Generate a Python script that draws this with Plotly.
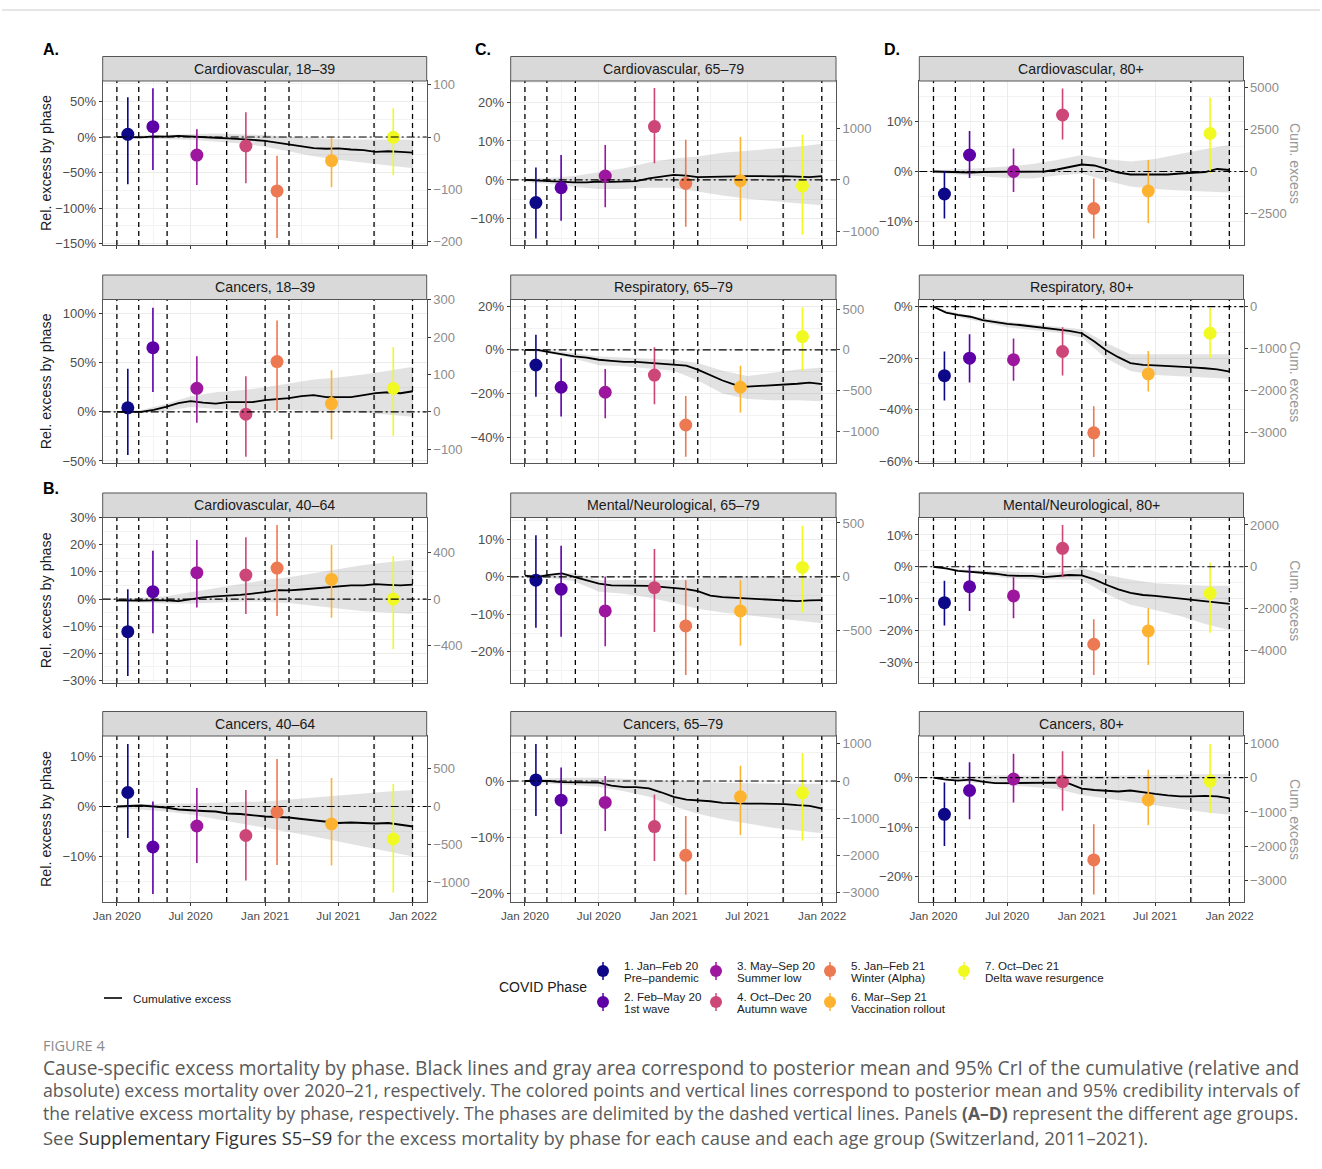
import plotly.graph_objects as go
import pandas as pd

W, H = 1322, 1169

# ---------------- data ----------------
phase_bounds = ["2020-01-01", "2020-02-24", "2020-05-04", "2020-09-28",
                "2021-01-01", "2021-03-01", "2021-09-27", "2021-12-31"]
phase_labels = ["1. Jan–Feb 20", "2. Feb–May 20", "3. May–Sep 20", "4. Oct–Dec 20",
                "5. Jan–Feb 21", "6. Mar–Sep 21", "7. Oct–Dec 21"]
phase_names = ["Pre–pandemic", "1st wave", "Summer low", "Autumn wave",
               "Winter (Alpha)", "Vaccination rollout", "Delta wave resurgence"]
phase_colors = ["#0D0887", "#5D01A6", "#9C179E", "#CC4678", "#ED7953", "#FDB32F", "#F0F921"]

month_dates = pd.date_range("2020-01-01", "2022-01-01", freq="MS")   # 25 points
band_dates = pd.date_range("2020-01-01", "2022-01-01", freq="2MS")   # 13 points

# Cardiovascular 18-39
cv_18_39_est = [3.8, 14.5, -25.3, -12.6, -75.8, -33.3, -0.4]
cv_18_39_lo = [-66.4, -46.3, -67.4, -65.0, -142.0, -70.6, -53.4]
cv_18_39_hi = [55.7, 68.4, 10.8, 34.7, -26.3, -0.4, 40.3]
cv_18_39_cum = [0, 0, -0.5, 1, 0.5, 1.5, 1, 0, -1, -2, -2.5, -4, -5.5, -8, -11, -13.5,
                -15.5, -16.5, -16, -17.5, -18.5, -21, -20, -21, -22]
cv_18_39_bhi = [1, 2, 3.5, 5, 5, 4, 2.8, 0, -2, -3, -3.5, -4, -4]
cv_18_39_blo = [-1, -2.5, -3, -4, -6, -9, -13.6, -20, -27, -32, -36, -40, -44]

# Cancers 18-39
ca_18_39_est = [4.1, 65.4, 24.0, -2.4, 51.2, 8.5, 23.8]
ca_18_39_lo = [-44.0, 20.3, -11.2, -45.7, 1.0, -28.0, -24.4]
ca_18_39_hi = [44.0, 106.0, 56.6, 36.3, 93.2, 42.4, 66.0]
ca_18_39_cum = [0, 0, 0, 2, 5, 9, 11, 9.5, 8.5, 10, 10, 10, 12, 13, 14, 16, 17, 15, 15,
                15, 17, 19, 20, 19, 21]
ca_18_39_bhi = [0.5, 2, 8, 16, 20, 22, 25, 29, 33, 35, 38, 42, 46]
ca_18_39_blo = [-0.5, -1, 1, 5, 3, 2, 2, 2, 1, 0, -1, -3, -5]

# Cardiovascular 40-64
cv_40_64_est = [-12.0, 2.7, 9.7, 8.8, 11.4, 7.2, 0.0]
cv_40_64_lo = [-28.3, -12.6, -3.1, -5.5, -6.2, -6.9, -18.5]
cv_40_64_hi = [3.6, 17.8, 21.7, 22.7, 27.2, 19.9, 15.8]
cv_40_64_cum = [-0.5, -0.6, -0.6, -0.5, -0.5, -0.8, 0, 0.6, 1, 1.2, 1.5, 2, 2.5, 3.3,
                3.2, 3.5, 3.8, 4.3, 4.6, 5, 5, 5.5, 5.2, 5, 5.3]
cv_40_64_bhi = [0, 0.5, 1, 2.5, 4, 5.5, 7, 8, 9.5, 11, 12.5, 13.5, 14.5]
cv_40_64_blo = [-1, -1.3, -1.6, -1.6, -1.3, -1, -1, -1.5, -2.5, -3.5, -4.5, -5, -5.5]

# Cancers 40-64
ca_40_64_est = [2.8, -8.1, -3.9, -5.8, -1.1, -3.5, -6.5]
ca_40_64_lo = [-6.3, -17.5, -11.3, -14.8, -11.7, -11.8, -17.2]
ca_40_64_hi = [12.5, 1.0, 3.7, 3.3, 9.5, 5.7, 4.5]
ca_40_64_cum = [0, 0.1, 0.2, 0, -0.2, -0.6, -0.8, -0.9, -1, -1.4, -1.5, -1.8, -2, -2.1,
                -2.2, -2.5, -2.8, -3, -3.3, -3.2, -3.3, -3.4, -3.3, -3.6, -4]
ca_40_64_bhi = [0.3, 0.5, 0.6, 0.6, 0.8, 0.9, 1, 1.4, 1.8, 2.3, 2.7, 3, 3.3]
ca_40_64_blo = [-0.3, -0.6, -1, -1.6, -2.5, -3.3, -4.2, -5, -6, -7, -8, -9, -10]

# Cardiovascular 65-79
cv_65_79_est = [-5.8, -2.0, 1.0, 13.7, -0.9, -0.2, -1.5]
cv_65_79_lo = [-15.0, -10.5, -7.0, 4.3, -12.0, -10.5, -14.1]
cv_65_79_hi = [3.2, 6.4, 9.0, 23.6, 10.3, 11.0, 11.6]
cv_65_79_cum = [0, -0.2, -0.3, -0.5, -0.6, -0.6, -0.4, -0.5, -0.4, -0.3, 0.4, 0.9, 1.3,
                1.1, 0.7, 0.8, 0.9, 1, 1, 1, 0.9, 1, 0.8, 0.7, 1]
cv_65_79_bhi = [0.3, 0.5, 1, 2, 3, 4.5, 5.5, 6, 7, 7.5, 8, 8.5, 9.3]
cv_65_79_blo = [-0.5, -1, -1.8, -2.3, -2.3, -2, -2, -3, -4, -4.8, -5.5, -6, -6.5]

# Respiratory 65-79
resp_65_79_est = [-6.9, -17.1, -19.4, -11.5, -34.4, -17.1, 6.1]
resp_65_79_lo = [-21.4, -30.5, -31.3, -24.9, -48.9, -28.7, -9.5]
resp_65_79_hi = [6.9, -3.8, -8.7, 1.2, -21.1, -7.3, 19.5]
resp_65_79_cum = [0, 0, -1, -2, -3, -3.5, -4.5, -5, -5.5, -5.5, -6, -6.5, -7, -7.2, -9,
                  -11.5, -14, -16, -16.8, -16.5, -16.2, -16, -15.5, -15, -15.7]
resp_65_79_bhi = [0, -0.2, -1.5, -3, -3.5, -4, -4.5, -6, -9.5, -12, -10.5, -9, -8]
resp_65_79_blo = [-0.3, -1.5, -4, -7, -7.5, -8.5, -9.5, -14, -20, -22.5, -23, -23, -23.5]

# Mental/Neurological 65-79
mn_65_79_est = [-0.9, -3.3, -9.1, -2.9, -13.1, -9.1, 2.5]
mn_65_79_lo = [-13.6, -16.0, -18.5, -14.7, -26.2, -18.4, -9.5]
mn_65_79_hi = [11.1, 8.3, 0.0, 7.4, -0.9, -0.9, 13.6]
mn_65_79_cum = [0.3, 0, 0.5, 0.9, 0, -1, -1.8, -2.3, -2.3, -2.2, -2.4, -2.7, -3, -3.3,
                -3.8, -5, -5.4, -5.6, -5.8, -6, -6.2, -6.4, -6.5, -6.3, -6.2]
mn_65_79_bhi = [0.5, 0.8, 1.0, -0.9, -0.8, -0.8, -0.9, -0.5, 0, 0, -0.2, -0.3, -0.4]
mn_65_79_blo = [0, -0.3, -1.2, -4, -4.5, -5.5, -7, -8.5, -9.5, -10.2, -11, -11.8, -12.4]

# Cancers 65-79
ca_65_79_est = [0.2, -3.4, -3.8, -8.1, -13.2, -2.8, -2.1]
ca_65_79_lo = [-6.2, -9.4, -8.9, -14.2, -20.2, -9.6, -10.6]
ca_65_79_hi = [6.6, 2.4, 0.9, -2.4, -6.2, 2.7, 5.0]
ca_65_79_cum = [0, 0, 0, -0.2, -0.2, -0.3, -0.3, -0.8, -1.1, -1.1, -1.3, -2, -2.8, -3.3,
                -3.4, -3.6, -3.9, -4, -4, -4, -4, -4.1, -4.3, -4.4, -4.9]
ca_65_79_bhi = [0.2, 0.5, 0.6, 0.6, 0.4, 0.2, 0, -0.2, -0.3, -0.4, -0.4, -0.4, -0.5]
ca_65_79_blo = [-0.2, -0.5, -0.8, -1, -1.8, -2.8, -4.5, -5.8, -6.8, -7.6, -8.3, -8.8, -9.3]

# Cardiovascular 80+
cv_80_est = [-4.5, 3.3, 0.0, 11.3, -7.4, -3.9, 7.6]
cv_80_lo = [-9.4, -1.3, -4.1, 6.4, -13.4, -10.3, -0.4]
cv_80_hi = [0.1, 8.1, 4.6, 16.6, -1.4, 2.3, 14.8]
cv_80_cum = [0, -0.1, -0.2, -0.2, -0.1, -0.1, -0.1, -0.1, 0, 0, 0.4, 0.9, 1.4, 1.2, 0.6,
             -0.2, -0.6, -0.6, -0.7, -0.6, -0.4, -0.3, -0.1, 0.5, 0.3]
cv_80_bhi = [0.2, 0.4, 0.7, 1, 1.5, 2.3, 3.3, 2.5, 2, 2.5, 3.5, 4.5, 5.3]
cv_80_blo = [-0.3, -0.6, -1, -1.3, -1.4, -0.8, -0.4, -1.8, -3, -3.5, -3.8, -4, -4.2]

# Respiratory 80+
resp_80_est = [-26.8, -20.0, -20.6, -17.4, -49.0, -26.1, -10.3]
resp_80_lo = [-36.4, -29.4, -28.8, -26.7, -58.4, -32.9, -20.0]
resp_80_hi = [-17.4, -10.7, -12.3, -8.0, -38.7, -17.2, -0.4]
resp_80_cum = [0, -2.3, -3.2, -3.9, -5.2, -6.1, -6.7, -7.1, -7.7, -8.4, -8.8, -9.4, -10.3,
               -13.5, -16.8, -19.6, -21.9, -22.6, -22.8, -23, -23.2, -23.6, -23.9, -24.3, -25.2]
resp_80_bhi = [0, -2.5, -4.3, -5.8, -6.8, -7.8, -8.8, -14, -18.5, -18.5, -18.5, -18.5, -18.5]
resp_80_blo = [-0.3, -4, -6, -8, -9, -10, -12, -20, -25, -26.5, -27, -27.5, -28]

# Mental/Neurological 80+
mn_80_est = [-11.3, -6.3, -9.2, 5.8, -24.4, -20.2, -8.4]
mn_80_lo = [-18.5, -13.9, -16.2, -3.3, -34.1, -30.9, -20.8]
mn_80_hi = [-4.4, 0.5, -3.3, 13.1, -16.5, -13.1, 1.3]
mn_80_cum = [0, -0.5, -1.3, -1.5, -1.9, -2.2, -2.7, -2.9, -2.9, -3.3, -2.9, -2.6, -2.7,
             -4, -5.6, -7.1, -8.2, -8.9, -9.2, -9.6, -10.2, -10.5, -11, -11.3, -11.7]
mn_80_bhi = [0, -0.8, -1.2, -1.6, -1.8, -1.8, -0.3, -2.5, -4, -5.2, -5.7, -6, -6]
mn_80_blo = [-0.4, -1.3, -2.3, -3.6, -4, -4, -4.2, -8.5, -12, -13.6, -15.5, -18, -20]

# Cancers 80+
ca_80_est = [-7.4, -2.6, -0.3, -0.8, -16.6, -4.5, -0.7]
ca_80_lo = [-13.8, -8.4, -5.0, -6.7, -23.6, -9.6, -7.2]
ca_80_hi = [-1.0, 3.1, 4.8, 5.3, -9.4, 1.6, 6.8]
ca_80_cum = [0, -0.4, -0.6, -0.4, -0.8, -1.1, -1.1, -1.1, -1.1, -1.1, -1, -1.2, -2.2, -2.5,
             -2.6, -2.8, -2.6, -3, -3.3, -3.6, -3.8, -3.8, -3.7, -3.8, -4.2]
ca_80_bhi = [0.2, 0.3, 0.5, 0.5, 0.4, 0.4, 0.3, 0.4, 0.5, 0.5, 0.6, 0.7, 0.7]
ca_80_blo = [-0.3, -0.8, -1.2, -1.5, -1.9, -2.3, -3.5, -4.2, -4.8, -5.5, -6.3, -7, -7.5]

# ---------------- panel configuration ----------------
# (title, est, lo, hi, cum, band_hi, band_lo, col, row, left range, left dtick, right range, right ticks)
panels = [
    ("Cardiovascular, 18–39", cv_18_39_est, cv_18_39_lo, cv_18_39_hi, cv_18_39_cum, cv_18_39_bhi, cv_18_39_blo,
     0, 0, [-151.7, 78.7], 50, [-206.5, 107.1], [100, 0, -100, -200]),
    ("Cancers, 18–39", ca_18_39_est, ca_18_39_lo, ca_18_39_hi, ca_18_39_cum, ca_18_39_bhi, ca_18_39_blo,
     0, 1, [-52.1, 114.5], 50, [-136.7, 300.4], [300, 200, 100, 0, -100]),
    ("Cardiovascular, 40–64", cv_40_64_est, cv_40_64_lo, cv_40_64_hi, cv_40_64_cum, cv_40_64_bhi, cv_40_64_blo,
     0, 2, [-30.9, 30.0], 10, [-723, 702], [400, 0, -400]),
    ("Cancers, 40–64", ca_40_64_est, ca_40_64_lo, ca_40_64_hi, ca_40_64_cum, ca_40_64_bhi, ca_40_64_blo,
     0, 3, [-19.1, 14.1], 10, [-1266, 935], [500, 0, -500, -1000]),
    ("Cardiovascular, 65–79", cv_65_79_est, cv_65_79_lo, cv_65_79_hi, cv_65_79_cum, cv_65_79_bhi, cv_65_79_blo,
     1, 0, [-16.7, 25.4], 10, [-1269, 1930], [1000, 0, -1000]),
    ("Respiratory, 65–79", resp_65_79_est, resp_65_79_lo, resp_65_79_hi, resp_65_79_cum, resp_65_79_bhi, resp_65_79_blo,
     1, 1, [-51.8, 23.1], 20, [-1386, 618], [500, 0, -500, -1000]),
    ("Mental/Neurological, 65–79", mn_65_79_est, mn_65_79_lo, mn_65_79_hi, mn_65_79_cum, mn_65_79_bhi, mn_65_79_blo,
     1, 2, [-28.3, 15.8], 10, [-988, 551], [500, 0, -500]),
    ("Cancers, 65–79", ca_65_79_est, ca_65_79_lo, ca_65_79_hi, ca_65_79_cum, ca_65_79_bhi, ca_65_79_blo,
     1, 3, [-21.5, 8.0], 10, [-3247, 1208], [1000, 0, -1000, -2000, -3000]),
    ("Cardiovascular, 80+", cv_80_est, cv_80_lo, cv_80_hi, cv_80_cum, cv_80_bhi, cv_80_blo,
     2, 0, [-14.7, 18.1], 10, [-4395, 5412], [5000, 2500, 0, -2500]),
    ("Respiratory, 80+", resp_80_est, resp_80_lo, resp_80_hi, resp_80_cum, resp_80_bhi, resp_80_blo,
     2, 1, [-60.7, 2.8], 20, [-3733, 172], [0, -1000, -2000, -3000]),
    ("Mental/Neurological, 80+", mn_80_est, mn_80_lo, mn_80_hi, mn_80_cum, mn_80_bhi, mn_80_blo,
     2, 2, [-36.6, 15.5], 10, [-5563, 2356], [2000, 0, -2000, -4000]),
    ("Cancers, 80+", ca_80_est, ca_80_lo, ca_80_hi, ca_80_cum, ca_80_bhi, ca_80_blo,
     2, 3, [-25.1, 8.4], 10, [-3622, 1212], [1000, 0, -1000, -2000, -3000]),
]

# ---------------- layout geometry (pixels) ----------------
col_px = [(102.7, 426.7), (510.7, 836.0), (919.3, 1243.5)]
row_px = [(81.0, 245.0), (299.5, 463.0), (517.5, 683.0), (736.0, 902.0)]
STRIP = 24.5
FONT = "Liberation Sans, Arial, sans-serif"
TICK_C = "#4d4d4d"
RIGHT_C = "#8c8c8c"
BORDER_C = "#555555"


def px(x):
    return x / W


def py(y):
    return 1 - y / H


bounds = pd.to_datetime(phase_bounds)
mids = [bounds[k] + (bounds[k + 1] - bounds[k]) / 2 for k in range(len(bounds) - 1)]
xrange_ = ["2019-11-27", "2022-02-04"]

fig = go.Figure()
shapes = []
annotations = []
layout = {}

for i, (title, est, lo, hi, cum, bhi, blo, col, row, yr, dt, rr, rticks) in enumerate(panels, start=1):
    xa = "x" if i == 1 else f"x{i}"
    ya = "y" if i == 1 else f"y{i}"
    yr_name = f"y{12 + i}"
    x0, x1 = col_px[col]
    y0, y1 = row_px[row]

    layout["xaxis" if i == 1 else f"xaxis{i}"] = dict(
        domain=[px(x0), px(x1)], anchor=ya, type="date", range=xrange_, automargin=False,
        tickmode="linear", tick0="2020-01-01", dtick="M6", tickformat="%b %Y",
        showticklabels=(row == 3), ticks="outside", ticklen=3, tickcolor="#333333",
        tickfont=dict(size=11.7, color=TICK_C, family=FONT),
        showgrid=True, gridcolor="#ebebeb", gridwidth=1.1,
        minor=dict(tick0="2020-01-01", dtick="M3", showgrid=True, gridcolor="#f3f3f3", gridwidth=0.6),
        showline=True, mirror=True, linecolor=BORDER_C, linewidth=1, zeroline=False,
    )
    layout["yaxis" if i == 1 else f"yaxis{i}"] = dict(
        domain=[py(y1), py(y0)], anchor=xa, range=yr, tickmode="linear", tick0=0, dtick=dt,
        automargin=False,
        ticksuffix="%", ticks="outside", ticklen=3, tickcolor="#333333",
        tickfont=dict(size=13, color=TICK_C, family=FONT),
        showgrid=True, gridcolor="#ebebeb", gridwidth=1.1,
        minor=dict(tick0=0, dtick=dt / 2, showgrid=True, gridcolor="#f3f3f3", gridwidth=0.6),
        showline=True, mirror=True, linecolor=BORDER_C, linewidth=1, zeroline=False,
    )
    layout[f"yaxis{12 + i}"] = dict(
        domain=[py(y1), py(y0)], anchor=xa, overlaying=ya, side="right", range=rr, automargin=False,
        tickmode="array", tickvals=rticks, ticktext=[str(v).replace("-", "−") for v in rticks],
        ticks="outside", ticklen=3, tickcolor="#333333",
        tickfont=dict(size=13, color=RIGHT_C, family=FONT),
        showgrid=False, zeroline=False, showline=False,
    )

    # gray band (cumulative CrI)
    fig.add_trace(go.Scatter(x=band_dates, y=bhi, xaxis=xa, yaxis=ya, mode="lines",
                             line=dict(width=0), hoverinfo="skip", showlegend=False))
    fig.add_trace(go.Scatter(x=band_dates, y=blo, xaxis=xa, yaxis=ya, mode="lines",
                             line=dict(width=0), fill="tonexty", fillcolor="rgba(150,150,150,0.28)",
                             hoverinfo="skip", showlegend=False))
    # cumulative excess line
    fig.add_trace(go.Scatter(x=month_dates, y=cum, xaxis=xa, yaxis=ya, mode="lines",
                             line=dict(color="black", width=1.8), showlegend=False))
    # phase point ranges
    for k in range(7):
        fig.add_trace(go.Scatter(
            x=[mids[k]], y=[est[k]], xaxis=xa, yaxis=ya, mode="markers",
            marker=dict(size=13, color=phase_colors[k], line=dict(width=0)),
            error_y=dict(type="data", symmetric=False, array=[hi[k] - est[k]],
                         arrayminus=[est[k] - lo[k]], color=phase_colors[k], thickness=1.6, width=0),
            showlegend=False, name=phase_labels[k]))
    # right-axis carrier
    fig.add_trace(go.Scatter(x=[None], y=[None], xaxis=xa, yaxis=yr_name, mode="lines",
                             hoverinfo="skip", showlegend=False))

    # dashed phase boundaries
    for b in phase_bounds:
        shapes.append(dict(type="line", xref=xa, yref=f"{ya} domain", x0=b, x1=b, y0=0, y1=1,
                           line=dict(color="black", width=1.3, dash="5px,4px"), layer="above"))
    # zero reference line
    shapes.append(dict(type="line", xref=f"{xa} domain", yref=ya, x0=0, x1=1, y0=0, y1=0,
                       line=dict(color="black", width=1.2, dash="8px,3px,2px,3px"), layer="above"))
    # strip
    shapes.append(dict(type="rect", xref="paper", yref="paper", x0=px(x0), x1=px(x1),
                       y0=py(y0), y1=py(y0 - STRIP), fillcolor="#d9d9d9",
                       line=dict(color=BORDER_C, width=1), layer="above"))
    annotations.append(dict(text=title, xref="paper", yref="paper", x=px((x0 + x1) / 2),
                            y=py(y0 - STRIP / 2), showarrow=False, xanchor="center", yanchor="middle",
                            font=dict(size=14.2, color="#1a1a1a", family=FONT)))
    if col == 0:
        annotations.append(dict(text="Rel. excess by phase", xref="paper", yref="paper",
                                x=px(46), y=py((y0 + y1) / 2), showarrow=False, textangle=-90,
                                xanchor="center", yanchor="middle",
                                font=dict(size=14.3, color="#1a1a1a", family=FONT)))
    if col == 2:
        annotations.append(dict(text="Cum. excess", xref="paper", yref="paper",
                                x=px(1295), y=py((y0 + y1) / 2), showarrow=False, textangle=90,
                                xanchor="center", yanchor="middle",
                                font=dict(size=14, color="#999999", family=FONT)))

# panel letters
for letter, lx, ly in [("A.", 41, 49), ("B.", 41, 488), ("C.", 473, 49), ("D.", 882, 49)]:
    annotations.append(dict(text=f"<b>{letter}</b>", xref="paper", yref="paper", x=px(lx), y=py(ly),
                            showarrow=False, xanchor="left", yanchor="middle",
                            font=dict(size=16, color="black", family=FONT)))

# ---------------- legends ----------------
shapes.append(dict(type="line", xref="paper", yref="paper", x0=px(104), x1=px(122),
                   y0=py(998), y1=py(998), line=dict(color="black", width=1.6)))
annotations.append(dict(text="Cumulative excess", xref="paper", yref="paper", x=px(131), y=py(998),
                        showarrow=False, xanchor="left", yanchor="middle",
                        font=dict(size=11.7, color="#1a1a1a", family=FONT)))
annotations.append(dict(text="COVID Phase", xref="paper", yref="paper", x=px(497), y=py(987),
                        showarrow=False, xanchor="left", yanchor="middle",
                        font=dict(size=14, color="#1a1a1a", family=FONT)))
leg_cx = [603, 716, 830, 964]
leg_cy = [971, 1002]
for k in range(7):
    cx, cy = leg_cx[k // 2], leg_cy[k % 2]
    c = phase_colors[k]
    shapes.append(dict(type="line", xref="paper", yref="paper", x0=px(cx), x1=px(cx),
                       y0=py(cy + 9), y1=py(cy - 9), line=dict(color=c, width=1.5)))
    shapes.append(dict(type="circle", xref="paper", yref="paper", x0=px(cx - 6), x1=px(cx + 6),
                       y0=py(cy + 6), y1=py(cy - 6), fillcolor=c, line=dict(width=0)))
    annotations.append(dict(text=phase_labels[k], xref="paper", yref="paper", x=px(cx + 19),
                            y=py(cy - 6), showarrow=False, xanchor="left", yanchor="middle",
                            font=dict(size=11.6, color="#1a1a1a", family=FONT)))
    annotations.append(dict(text=phase_names[k], xref="paper", yref="paper", x=px(cx + 19),
                            y=py(cy + 6), showarrow=False, xanchor="left", yanchor="middle",
                            font=dict(size=11.6, color="#1a1a1a", family=FONT)))

# ---------------- caption ----------------
shapes.append(dict(type="line", xref="paper", yref="paper", x0=px(2), x1=px(1320), y0=py(10), y1=py(10),
                   line=dict(color="#cccccc", width=1)))
CAP = "Open Sans, Noto Sans, sans-serif"
annotations.append(dict(text="FIGURE 4", xref="paper", yref="paper", x=px(41), y=py(1045),
                        showarrow=False, xanchor="left", yanchor="middle",
                        font=dict(size=14.5, color="#8a8a8a", family=CAP)))
caption_lines = [
    "Cause-specific excess mortality by phase. Black lines and gray area correspond to posterior mean and 95% CrI of the cumulative (relative and",
    "absolute) excess mortality over 2020–21, respectively. The colored points and vertical lines correspond to posterior mean and 95% credibility intervals of",
    "the relative excess mortality by phase, respectively. The phases are delimited by the dashed vertical lines. Panels <b>(A–D)</b> represent the different age groups.",
    "See <span style='color:#333333'>Supplementary Figures S5–S9</span> for the excess mortality by phase for each cause and each age group (Switzerland, 2011–2021).",
]
caption_y = [1067, 1090, 1113, 1137]
caption_size = [19.2, 17.75, 17.5, 18.45]   # per-line sizes approximate the justified block
for line, yy, fs in zip(caption_lines, caption_y, caption_size):
    annotations.append(dict(text=line, xref="paper", yref="paper", x=px(41), y=py(yy),
                            showarrow=False, xanchor="left", yanchor="middle",
                            font=dict(size=fs, color="#5a5a5a", family=CAP)))

fig.update_layout(
    width=W, height=H, autosize=False, margin=dict(l=0, r=0, t=0, b=0, pad=0, autoexpand=False),
    paper_bgcolor="white", plot_bgcolor="white", showlegend=False,
    font=dict(family=FONT), shapes=shapes, annotations=annotations, **layout,
)

fig.write_html("out.html")
